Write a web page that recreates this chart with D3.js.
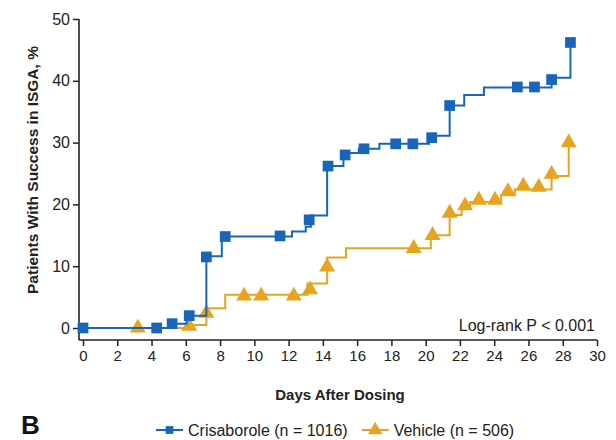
<!DOCTYPE html>
<html>
<head>
<meta charset="utf-8">
<script src="https://cdn.jsdelivr.net/npm/d3@7"></script>
<style>
  body { margin: 0; background: #fff; }
  svg { font-family: "Liberation Sans", Arial, sans-serif; }
</style>
</head>
<body>
<div id="chart"></div>
<script>
// Step curves (day where the curve jumps, new value %)
var crisSteps = [[0,0],[5.0,0.7],[6.05,2.0],[7.2,11.6],[8.1,14.8],[12.2,15.6],[13.0,16.4],[13.3,18.2],
  [14.25,26.2],[15.2,28.3],[16.1,29.0],[17.3,29.8],[20.2,31.1],[21.4,36.0],[22.25,37.7],[23.4,38.9],
  [27.35,40.5],[28.45,46.2]];
var vehSteps = [[0,0],[6.0,0.5],[7.2,3.2],[8.3,5.4],[13.1,7.2],[14.25,11.4],[15.35,12.9],[20.3,15.0],
  [21.4,18.3],[22.1,19.8],[22.6,20.4],[24.4,21.5],[25.2,22.4],[27.35,24.6],[28.35,30.0]];

// Censoring markers
var crisMarks = [[0,0],[4.3,0],[5.2,0.7],[6.2,2.0],[7.2,11.5],[8.3,14.8],[11.5,14.9],[13.2,17.5],
  [14.3,26.2],[15.3,28.0],[16.4,29.0],[18.25,29.8],[19.25,29.8],[20.35,30.8],[21.4,36.0],
  [25.35,39.0],[26.35,39.0],[27.35,40.2],[28.45,46.2]];
var vehMarks = [[3.2,0],[6.2,0.3],[7.2,2.4],[9.4,5.2],[10.4,5.2],[12.3,5.2],[13.25,6.2],[14.25,9.9],
  [19.3,12.9],[20.4,15.0],[21.4,18.6],[22.3,19.8],[23.1,20.7],[24.05,20.7],[24.8,22.1],[25.7,23.0],
  [26.6,22.8],[27.35,24.9],[28.35,30.0]];

var xTicks = d3.range(0, 31, 2);
var yTicks = [0, 10, 20, 30, 40, 50];
var legendLabels = ["Crisaborole (n = 1016)", "Vehicle (n = 506)"];

var blue = "#1866b9", orange = "#e6a420";

var width = 616, height = 440;
var svg = d3.select("#chart").append("svg")
    .attr("width", width)
    .attr("height", height);

var x = d3.scaleLinear().domain([0, 30]).range([83, 597]);
var y = d3.scaleLinear().domain([0, 50]).range([328, 19]);
var axisX = 79, axisY = 340;

// axes
var gy = svg.append("g")
    .attr("transform", "translate(" + axisX + ",0)")
    .call(d3.axisLeft(y).tickValues(yTicks).tickSize(6).tickPadding(3).tickSizeOuter(0));
gy.select(".domain").remove();
gy.selectAll("line").attr("stroke", "#222").attr("stroke-width", 1.5);
gy.selectAll("text").attr("font-size", 16).attr("fill", "#222").attr("font-family", null);

var gx = svg.append("g")
    .attr("transform", "translate(0," + axisY + ")")
    .call(d3.axisBottom(x).tickValues(xTicks).tickSize(6).tickPadding(4).tickSizeOuter(0));
gx.select(".domain").remove();
gx.selectAll("line").attr("stroke", "#222").attr("stroke-width", 1.5);
gx.selectAll("text").attr("font-size", 15).attr("fill", "#222").attr("font-family", null);

svg.append("line")
    .attr("x1", axisX).attr("x2", axisX)
    .attr("y1", y(50)).attr("y2", axisY)
    .attr("stroke", "#222").attr("stroke-width", 1.6);
svg.append("line")
    .attr("x1", axisX).attr("x2", x(30))
    .attr("y1", axisY).attr("y2", axisY)
    .attr("stroke", "#222").attr("stroke-width", 1.6);

// titles
svg.append("text")
    .attr("transform", "translate(38,170) rotate(-90)")
    .attr("text-anchor", "middle")
    .attr("font-size", 15.5).attr("font-weight", "bold").attr("fill", "#222")
    .text("Patients With Success in ISGA, %");
svg.append("text")
    .attr("x", (x(0) + x(30)) / 2).attr("y", 400)
    .attr("text-anchor", "middle")
    .attr("font-size", 15).attr("font-weight", "bold").attr("fill", "#222")
    .text("Days After Dosing");
svg.append("text")
    .attr("x", x(30) - 2).attr("y", 331)
    .attr("text-anchor", "end")
    .attr("font-size", 16).attr("fill", "#222")
    .text("Log-rank P < 0.001");
svg.append("text")
    .attr("x", 21).attr("y", 434)
    .attr("font-size", 26).attr("font-weight", "bold").attr("fill", "#111")
    .text("B");

// step lines
var line = d3.line()
    .x(function (d) { return x(d[0]); })
    .y(function (d) { return y(d[1]); })
    .curve(d3.curveStepAfter);

var series = [
  { steps: vehSteps, marks: vehMarks, color: orange, symbol: d3.symbolTriangle, size: 110 },
  { steps: crisSteps, marks: crisMarks, color: blue, symbol: d3.symbolSquare, size: 115 }
];

series.forEach(function (s) {
  svg.append("path")
      .datum(s.steps)
      .attr("d", line)
      .attr("fill", "none")
      .attr("stroke", s.color)
      .attr("stroke-width", 2);
  svg.append("g").selectAll("path")
      .data(s.marks)
      .enter()
      .append("path")
      .attr("transform", function (d) { return "translate(" + x(d[0]) + "," + y(d[1]) + ")"; })
      .attr("d", d3.symbol().type(s.symbol).size(s.size))
      .attr("fill", s.color);
});

// legend
var legend = svg.append("g");
var legendItems = [
  { label: legendLabels[0], color: blue, symbol: d3.symbolSquare, size: 60 },
  { label: legendLabels[1], color: orange, symbol: d3.symbolTriangle, size: 90 }
];
var lx = 156, ly = 430;
legendItems.forEach(function (item) {
  legend.append("line")
      .attr("x1", lx).attr("x2", lx + 27)
      .attr("y1", ly).attr("y2", ly)
      .attr("stroke", item.color).attr("stroke-width", 2);
  legend.append("path")
      .attr("transform", "translate(" + (lx + 13.5) + "," + ly + ")")
      .attr("d", d3.symbol().type(item.symbol).size(item.size))
      .attr("fill", item.color);
  var t = legend.append("text")
      .attr("x", lx + 32).attr("y", ly + 6)
      .attr("font-size", 16).attr("fill", "#222")
      .text(item.label);
  lx = lx + 32 + t.node().getComputedTextLength() + 14;
});
</script>
</body>
</html>
